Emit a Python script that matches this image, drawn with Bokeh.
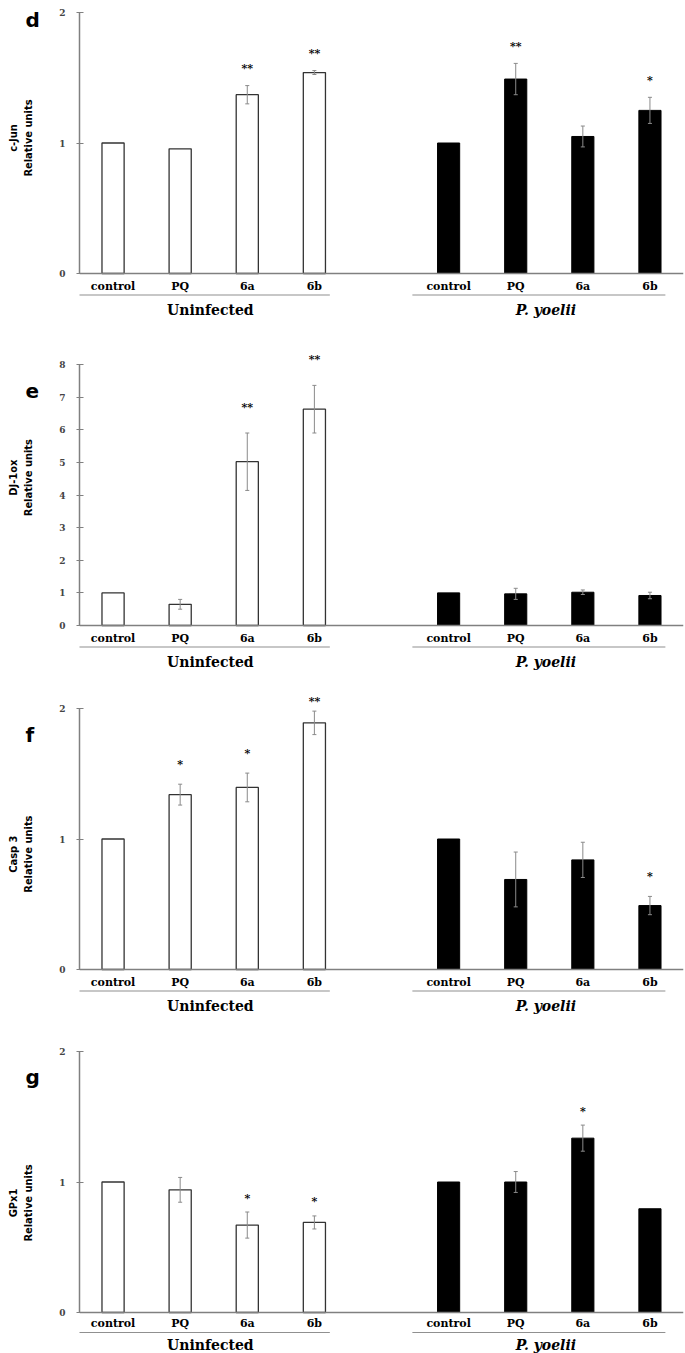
import math
from bokeh.plotting import figure
from bokeh.layouts import column, row
from bokeh.models import Range1d, FixedTicker, LinearAxis, Span
from bokeh.core.properties import value
from bokeh.embed import file_html
from bokeh.resources import INLINE

# ---------------- data ----------------
categories = ["control", "PQ", "6a", "6b"]
groups = ["Uninfected", "P. yoelii"]

# panel d: c-Jun
cjun_uninf = [1.00, 0.955, 1.37, 1.54]
cjun_uninf_err = [0.0, 0.0, 0.07, 0.015]
cjun_uninf_sig = ["", "", "**", "**"]
cjun_inf = [1.00, 1.49, 1.05, 1.25]
cjun_inf_err = [0.0, 0.12, 0.08, 0.10]
cjun_inf_sig = ["", "**", "", "*"]

# panel e: DJ-1ox
dj_uninf = [1.00, 0.65, 5.02, 6.63]
dj_uninf_err = [0.0, 0.15, 0.88, 0.73]
dj_uninf_sig = ["", "", "**", "**"]
dj_inf = [1.00, 0.97, 1.02, 0.92]
dj_inf_err = [0.0, 0.17, 0.07, 0.10]
dj_inf_sig = ["", "", "", ""]

# panel f: Casp 3
casp_uninf = [1.00, 1.34, 1.395, 1.89]
casp_uninf_err = [0.0, 0.08, 0.11, 0.09]
casp_uninf_sig = ["", "*", "*", "**"]
casp_inf = [1.00, 0.69, 0.84, 0.49]
casp_inf_err = [0.0, 0.21, 0.135, 0.07]
casp_inf_sig = ["", "", "", "*"]

# panel g: GPx1
gpx_uninf = [1.00, 0.94, 0.67, 0.69]
gpx_uninf_err = [0.0, 0.095, 0.10, 0.05]
gpx_uninf_sig = ["", "", "*", "*"]
gpx_inf = [1.00, 1.00, 1.336, 0.795]
gpx_inf_err = [0.0, 0.08, 0.10, 0.0]
gpx_inf_sig = ["", "", "*", ""]

# ---------------- style / layout ----------------
AXIS_H = 261
ABOVE = 12
LW = 56            # width of the left strip (panel letter + y label)
MW = 685 - LW      # width of the main figure
BL = 23            # main figure left border (tick labels)
SERIF = "DejaVu Serif"
NARROW = "'Liberation Sans Narrow', 'DejaVu Sans Condensed', sans-serif"
AX_COL = "#808080"
ERR_COL = "#8a8a8a"

xs_u = [0, 1, 2, 3]
xs_i = [5, 6, 7, 8]


def make_left(letter, gene, height, top_border, letter_dy, label_dy):
    p = figure(width=LW, height=height, x_range=Range1d(0, LW), y_range=Range1d(0, height),
               output_backend="svg", toolbar_location=None,
               x_axis_type=None, y_axis_type=None,
               min_border_left=0, min_border_right=0, min_border_top=0, min_border_bottom=0)
    p.outline_line_color = None
    p.border_fill_color = "white"
    axis_top = height - top_border - ABOVE
    axis_mid = axis_top - AXIS_H / 2
    p.text(x=[25], y=[axis_top - letter_dy], text=[letter], text_align="left",
           text_baseline="alphabetic", text_font=value("DejaVu Sans"),
           text_font_style="bold", text_font_size="20px", text_color="black")
    p.text(x=[13, 28], y=[axis_mid - label_dy] * 2, text=[gene, "Relative units"],
           angle=math.pi / 2, text_align="center", text_baseline="middle",
           text_font=value(NARROW), text_font_style="bold", text_font_size="11px",
           text_color="black")
    return p


def make_main(ymax, ticks, uninf, uerr, usig, inf, ierr, isig,
              top_border, below, star_gap, offs):
    s = AXIS_H / ymax
    frame_h = ABOVE + AXIS_H + below
    cat_off, line_off, grp_off = offs
    p = figure(width=MW, height=top_border + frame_h,
               x_range=Range1d(-0.5, 8.5),
               y_range=Range1d(-below / s, ymax + ABOVE / s),
               output_backend="svg", toolbar_location=None,
               x_axis_type=None, y_axis_type=None,
               min_border_left=BL, min_border_right=2,
               min_border_top=top_border, min_border_bottom=0)
    p.outline_line_color = None
    p.background_fill_color = "white"
    p.border_fill_color = "white"

    yaxis = LinearAxis(ticker=FixedTicker(ticks=ticks), bounds=(0, ymax))
    yaxis.axis_line_color = AX_COL
    yaxis.axis_line_width = 1.5
    yaxis.major_tick_line_color = AX_COL
    yaxis.major_tick_line_width = 1.2
    yaxis.major_tick_in = 4
    yaxis.major_tick_out = 3
    yaxis.minor_tick_line_color = None
    yaxis.major_label_text_font = SERIF
    yaxis.major_label_text_font_style = "bold"
    yaxis.major_label_text_font_size = "9px"
    yaxis.major_label_standoff = 11
    p.add_layout(yaxis, "left")

    # x axis line at zero
    p.add_layout(Span(location=0, dimension="width", line_color=AX_COL, line_width=1.5))

    # bars
    p.vbar(x=xs_u, top=uninf, bottom=0, width=0.33, fill_color="white",
           line_color="#333333", line_width=1.3)
    p.vbar(x=xs_i, top=inf, bottom=0, width=0.33, fill_color="black",
           line_color="black", line_width=1.0)

    # error bars + stars
    xs_all = xs_u + xs_i
    vals = uninf + inf
    errs = uerr + ierr
    sigs = usig + isig
    ex, lo, hi = [], [], []
    for x, v, e in zip(xs_all, vals, errs):
        if e > 0:
            ex.append(x)
            lo.append(v - e)
            hi.append(v + e)
    if ex:
        p.segment(x0=ex, x1=ex, y0=lo, y1=hi, line_color=ERR_COL, line_width=1)
        p.segment(x0=[x - 0.03 for x in ex], x1=[x + 0.03 for x in ex], y0=hi, y1=hi,
                  line_color=ERR_COL, line_width=1)
        p.segment(x0=[x - 0.03 for x in ex], x1=[x + 0.03 for x in ex], y0=lo, y1=lo,
                  line_color=ERR_COL, line_width=1)
    sx_, sy_, st_ = [], [], []
    for x, v, e, sg in zip(xs_all, vals, errs, sigs):
        if sg:
            sx_.append(x)
            sy_.append(min(v + e + star_gap / s, ymax + 7 / s))
            st_.append(sg)
    if sx_:
        p.text(x=sx_, y=sy_, text=st_, text_align="center", text_baseline="middle",
               text_font=value(SERIF), text_font_style="bold", text_font_size="11px",
               text_color="black")

    # category labels
    p.text(x=xs_all, y=[-cat_off / s] * 8, text=categories + categories,
           text_align="center", text_baseline="middle", text_font=value(SERIF),
           text_font_style="bold", text_font_size="11px", text_color="black")

    # group lines and labels
    p.segment(x0=[xs_u[0] - 0.54, xs_i[0] - 0.54], x1=[xs_u[-1] + 0.23, xs_i[-1] + 0.23],
              y0=[-line_off / s] * 2, y1=[-line_off / s] * 2,
              line_color="#909090", line_width=1.2)
    p.text(x=[sum(xs_u) / 4 - 0.05], y=[-grp_off / s], text=[groups[0]], text_align="center",
           text_baseline="middle", text_font=value(SERIF), text_font_style="bold",
           text_font_size="14px", text_color="black")
    p.text(x=[sum(xs_i) / 4 - 0.05], y=[-grp_off / s], text=[groups[1]], text_align="center",
           text_baseline="middle", text_font=value(SERIF), text_font_style="bold italic",
           text_font_size="14px", text_color="black")
    return p


def make_panel(letter, gene, ymax, ticks, uninf, uerr, usig, inf, ierr, isig,
               top_border, below, star_gap, letter_dy, label_dy, offs=(12.5, 21.5, 36)):
    main = make_main(ymax, ticks, uninf, uerr, usig, inf, ierr, isig,
                     top_border, below, star_gap, offs)
    left = make_left(letter, gene, top_border + ABOVE + AXIS_H + below,
                     top_border, letter_dy, label_dy)
    return row(left, main, spacing=0)


panel_d = make_panel("d", "c-Jun", 2, [0, 1, 2], cjun_uninf, cjun_uninf_err, cjun_uninf_sig,
                     cjun_inf, cjun_inf_err, cjun_inf_sig, 0, 45, 17, 7.5, -5)
panel_e = make_panel("e", "DJ-1ox", 8, [0, 1, 2, 3, 4, 5, 6, 7, 8], dj_uninf, dj_uninf_err,
                     dj_uninf_sig, dj_inf, dj_inf_err, dj_inf_sig, 34, 45, 26, -3.3, -38)
panel_f = make_panel("f", "Casp 3", 2, [0, 1, 2], casp_uninf, casp_uninf_err, casp_uninf_sig,
                     casp_inf, casp_inf_err, casp_inf_sig, 26, 45, 20, 4, 2)
panel_g = make_panel("g", "GPx1", 2, [0, 1, 2], gpx_uninf, gpx_uninf_err, gpx_uninf_sig,
                     gpx_inf, gpx_inf_err, gpx_inf_sig, 25, 41, 14, 3.6, 9,
                     offs=(11, 20, 32))

layout = column(panel_d, panel_e, panel_f, panel_g, spacing=0)
open("out.html", "w").write(file_html(layout, INLINE))
